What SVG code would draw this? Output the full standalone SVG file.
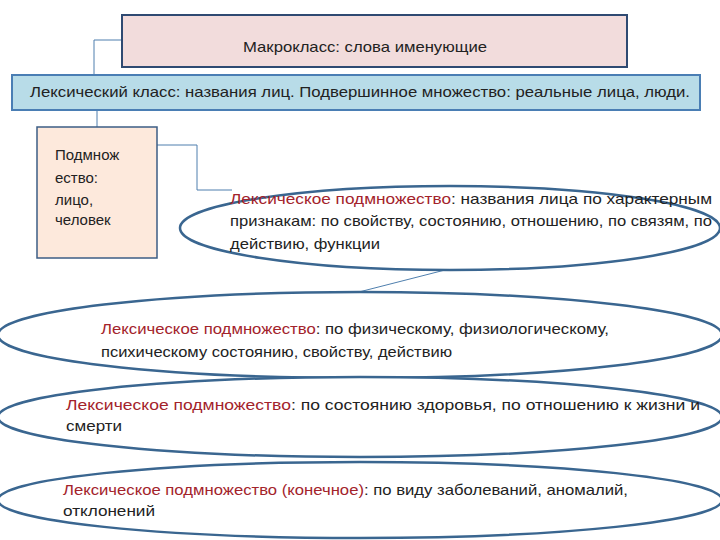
<svg xmlns="http://www.w3.org/2000/svg" width="720" height="540" viewBox="0 0 720 540">
<style>
text{font-family:"Liberation Sans","DejaVu Sans",sans-serif;font-size:15px;fill:#222}
.r{fill:#a3232b}
.c{fill:none;stroke:#4f7fae;stroke-width:1}
.e{fill:#fff;stroke:#3a6690;stroke-width:2.5}
</style>
<rect width="720" height="540" fill="#fff"/>
<g id="connectors">
<polyline class="c" points="122,40 94,40 94,75"/>
<polyline class="c" points="97,110 97,127"/>
<polyline class="c" points="157,145 197,145 197,190 232,190"/>
<line class="c" x1="445" y1="270" x2="355" y2="293"/>
</g>
<g id="macro">
<rect x="122" y="15" width="505" height="52" fill="#f2dcdc" stroke="#2f4a72" stroke-width="2"/>
<text x="243" y="52" textLength="244" lengthAdjust="spacingAndGlyphs">Макрокласс: слова именующие</text>
</g>
<g id="lexclass">
<rect x="12" y="75" width="688" height="35" fill="#b8dce8" stroke="#4a7eb4" stroke-width="2"/>
<text x="30" y="97" textLength="660" lengthAdjust="spacingAndGlyphs">Лексический класс: названия лиц. Подвершинное множество: реальные лица, люди.</text>
</g>
<g id="subset">
<rect x="37" y="127" width="120" height="131" fill="#fde9dc" stroke="#3c5d85" stroke-width="1.5"/>
<text x="55" y="160">Подмнож</text>
<text x="55" y="183">ество:</text>
<text x="55" y="205">лицо,</text>
<text x="55" y="225">человек</text>
</g>
<g id="e1">
<ellipse class="e" cx="450" cy="228" rx="270" ry="42"/>
<text x="230" y="204" textLength="482" lengthAdjust="spacingAndGlyphs"><tspan class="r">Лексическое подмножество</tspan>: названия лица по характерным</text>
<text x="230" y="226" textLength="482" lengthAdjust="spacingAndGlyphs">признакам: по свойству, состоянию, отношению, по связям, по</text>
<text x="230" y="249" textLength="150" lengthAdjust="spacingAndGlyphs">действию, функции</text>
</g>
<g id="e2">
<ellipse class="e" cx="360" cy="335" rx="362" ry="43"/>
<text x="101" y="334" textLength="508" lengthAdjust="spacingAndGlyphs"><tspan class="r">Лексическое подмножество</tspan>: по физическому, физиологическому,</text>
<text x="101" y="357" textLength="351" lengthAdjust="spacingAndGlyphs">психическому состоянию, свойству, действию</text>
</g>
<g id="e3">
<ellipse class="e" cx="360" cy="417" rx="362" ry="40"/>
<text x="66" y="410" textLength="634" lengthAdjust="spacingAndGlyphs"><tspan class="r">Лексическое подмножество</tspan>: по состоянию здоровья, по отношению к жизни и</text>
<text x="66" y="431" textLength="56" lengthAdjust="spacingAndGlyphs">смерти</text>
</g>
<g id="e4">
<ellipse class="e" cx="360" cy="500" rx="362" ry="38"/>
<text x="63" y="495" textLength="565" lengthAdjust="spacingAndGlyphs"><tspan class="r">Лексическое подмножество (конечное)</tspan>: по виду заболеваний, аномалий,</text>
<text x="63" y="516" textLength="92" lengthAdjust="spacingAndGlyphs">отклонений</text>
</g>
</svg>
